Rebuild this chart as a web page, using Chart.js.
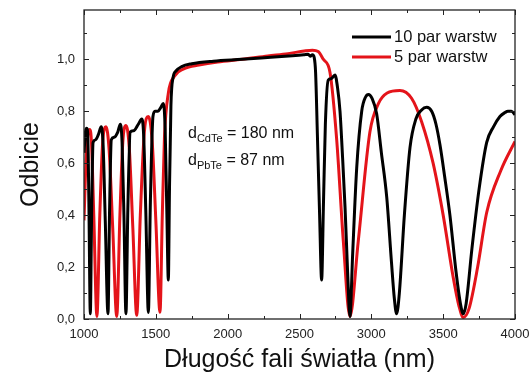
<!DOCTYPE html>
<html>
<head>
<meta charset="utf-8">
<script src="https://cdn.jsdelivr.net/npm/chart.js@4.4.1/dist/chart.umd.min.js"></script>
<style>
  html, body { margin: 0; padding: 0; background: #fff; }
  #wrap { width: 531px; height: 377px; }
</style>
</head>
<body>
<div id="wrap"><canvas id="chart" width="531" height="377"></canvas></div>
<script>
// wavelength (nm) and reflectance
const wl10 = [1000, 1010, 1018, 1026, 1034, 1044, 1053, 1063, 1080, 1100, 1120, 1133, 1148, 1167, 1178, 1190,
  1210, 1235, 1253, 1265, 1278, 1292, 1305, 1322, 1345, 1378, 1402, 1415, 1430, 1448, 1462, 1480, 1494,
  1515, 1535, 1552, 1565, 1577, 1587, 1595, 1605, 1620, 1640, 1680, 1750, 1900, 2100, 2300, 2450, 2530,
  2560, 2575, 2590, 2602, 2612, 2625, 2640, 2654, 2667, 2680, 2700, 2720, 2747, 2765, 2782, 2800, 2817,
  2835, 2851, 2870, 2898, 2933, 2960, 2980, 3005, 3037, 3070, 3107, 3140, 3160, 3176, 3195, 3230, 3269,
  3310, 3350, 3385, 3420, 3450, 3478, 3510, 3547, 3590, 3620, 3640, 3660, 3700, 3750, 3803, 3850, 3895,
  3930, 3951, 3975, 4000];
const refl10 = [0.64, 0.72, 0.735, 0.71, 0.45, 0.02, 0.40, 0.68, 0.69, 0.71, 0.74, 0.67, 0.38, 0.02, 0.42, 0.69,
  0.70, 0.72, 0.75, 0.68, 0.40, 0.02, 0.42, 0.72, 0.725, 0.75, 0.77, 0.71, 0.42, 0.025, 0.45, 0.78, 0.80,
  0.80, 0.815, 0.83, 0.73, 0.40, 0.15, 0.50, 0.82, 0.93, 0.955, 0.972, 0.983, 0.993, 1.0, 1.008, 1.014, 1.018,
  1.02, 1.012, 1.018, 1.008, 0.95, 0.70, 0.40, 0.15, 0.45, 0.75, 0.92, 0.925, 0.94, 0.89, 0.80, 0.62, 0.43,
  0.18, 0.01, 0.25, 0.58, 0.80, 0.855, 0.865, 0.85, 0.79, 0.64, 0.47, 0.22, 0.08, 0.02, 0.10, 0.40, 0.66,
  0.77, 0.805, 0.815, 0.80, 0.75, 0.67, 0.55, 0.40, 0.18, 0.06, 0.02, 0.06, 0.27, 0.50, 0.68, 0.74, 0.78,
  0.795, 0.80, 0.80, 0.787];

const wl5 = [1000, 1015, 1030, 1040, 1052, 1068, 1090, 1110, 1130, 1153, 1175, 1200, 1228, 1250, 1270, 1292,
  1315, 1340, 1367, 1392, 1420, 1448, 1475, 1500, 1529, 1545, 1560, 1587, 1629, 1698, 1800, 1931, 2100,
  2279, 2420, 2533, 2590, 2630, 2666, 2712, 2759, 2805, 2851, 2909, 2990, 3050, 3110, 3199, 3280, 3350,
  3430, 3500, 3570, 3610, 3640, 3680, 3740, 3803, 3900, 4000];
const refl5 = [0.38, 0.62, 0.72, 0.73, 0.68, 0.40, 0.01, 0.40, 0.68, 0.74, 0.65, 0.35, 0.01, 0.40, 0.68, 0.745,
  0.66, 0.35, 0.014, 0.40, 0.72, 0.78, 0.68, 0.38, 0.026, 0.40, 0.70, 0.87, 0.935, 0.964, 0.978, 0.99, 1.0,
  1.013, 1.022, 1.032, 1.035, 1.03, 1.0, 0.95, 0.69, 0.30, 0.01, 0.30, 0.72, 0.83, 0.87, 0.88, 0.85, 0.76,
  0.60, 0.40, 0.16, 0.05, 0.006, 0.04, 0.20, 0.41, 0.57, 0.684];

const xTicks = [1000, 1500, 2000, 2500, 3000, 3500, 4000];
const yTicks = [0, 0.2, 0.4, 0.6, 0.8, 1.0];
const seriesNames = ['10 par warstw', '5 par warstw'];

const FONT = '"Liberation Sans", Arial, sans-serif';
const RED = 'rgb(228, 20, 26)';

const toPoints = (xs, ys) => xs.map((x, i) => ({ x: x, y: ys[i] }));

// box, inward ticks on all four sides, legend and layer thickness note
const framePlugin = {
  id: 'frame',
  afterDatasetsDraw(chart) {
    const { ctx, chartArea: a, scales } = chart;
    const xs = scales.x, ys = scales.y;
    ctx.save();
    ctx.strokeStyle = '#222';
    ctx.lineWidth = 1.3;
    ctx.strokeRect(a.left, a.top, a.right - a.left, a.bottom - a.top);

    ctx.lineWidth = 1;
    for (let v = 1000; v <= 4000; v += 250) {
      const px = Math.round(xs.getPixelForValue(v)) + 0.5;
      const len = v % 500 === 0 ? 5 : 3;
      ctx.beginPath();
      ctx.moveTo(px, a.bottom); ctx.lineTo(px, a.bottom - len);
      ctx.moveTo(px, a.top); ctx.lineTo(px, a.top + len);
      ctx.stroke();
    }
    for (let i = 0; i <= 11; i++) {
      const v = i / 10;
      const py = Math.round(ys.getPixelForValue(v)) + 0.5;
      const len = i % 2 === 0 ? 5 : 3;
      ctx.beginPath();
      ctx.moveTo(a.left, py); ctx.lineTo(a.left + len, py);
      ctx.moveTo(a.right, py); ctx.lineTo(a.right - len, py);
      ctx.stroke();
    }

    // legend
    const colors = ['#000', RED];
    ctx.font = '16.5px ' + FONT;
    ctx.textBaseline = 'middle';
    ctx.fillStyle = '#111';
    seriesNames.forEach((name, i) => {
      const y = 37 + i * 20;
      ctx.strokeStyle = colors[i];
      ctx.lineWidth = 3;
      ctx.beginPath();
      ctx.moveTo(352, y); ctx.lineTo(391, y);
      ctx.stroke();
      ctx.fillText(name, 394, y);
    });

    // layer thicknesses
    const note = [['CdTe', ' = 180 nm'], ['PbTe', ' = 87 nm']];
    note.forEach((n, i) => {
      let x = 188;
      const y = 138 + i * 27;
      ctx.textBaseline = 'alphabetic';
      ctx.font = '16px ' + FONT;
      ctx.fillText('d', x, y);
      x += ctx.measureText('d').width;
      ctx.font = '11px ' + FONT;
      ctx.fillText(n[0], x, y + 4);
      x += ctx.measureText(n[0]).width;
      ctx.font = '16px ' + FONT;
      ctx.fillText(n[1], x, y);
    });
    ctx.restore();
  }
};

new Chart(document.getElementById('chart'), {
  type: 'line',
  data: {
    datasets: [{
      label: seriesNames[0],
      data: toPoints(wl10, refl10),
      borderColor: '#000',
      borderWidth: 3,
      pointRadius: 0,
      cubicInterpolationMode: 'monotone'
    }, {
      label: seriesNames[1],
      data: toPoints(wl5, refl5),
      borderColor: RED,
      borderWidth: 3,
      pointRadius: 0,
      cubicInterpolationMode: 'monotone'
    }]
  },
  options: {
    responsive: false,
    animation: false,
    layout: { padding: { top: 10, right: 16, left: 0, bottom: 0 } },
    plugins: {
      legend: { display: false },
      tooltip: { enabled: false }
    },
    scales: {
      x: {
        type: 'linear',
        min: 1000,
        max: 4000,
        afterBuildTicks: s => { s.ticks = xTicks.map(v => ({ value: v })); },
        afterFit: s => { s.height = 58; s.paddingLeft = 0; s.paddingRight = 0; },
        grid: { display: false, drawTicks: false },
        border: { display: false },
        ticks: {
          padding: 8,
          color: '#222',
          font: { family: FONT, size: 13 },
          maxRotation: 0,
          callback: v => String(v)
        },
        title: {
          display: true,
          text: 'Długość fali światła (nm)',
          color: '#111',
          font: { family: FONT, size: 25 },
          padding: { top: 0, bottom: 2 }
        }
      },
      y: {
        min: 0,
        max: 1.19,
        afterBuildTicks: s => { s.ticks = yTicks.map(v => ({ value: v })); },
        afterFit: s => { s.width = 84; s.paddingTop = 0; s.paddingBottom = 0; },
        grid: { display: false, drawTicks: false },
        border: { display: false },
        ticks: {
          padding: 9,
          color: '#222',
          font: { family: FONT, size: 13 },
          callback: v => v.toFixed(1).replace('.', ',')
        },
        title: {
          display: true,
          text: 'Odbicie',
          color: '#111',
          font: { family: FONT, size: 25 },
          padding: { top: 16, bottom: 0 }
        }
      }
    }
  },
  plugins: [framePlugin]
});
</script>
</body>
</html>
